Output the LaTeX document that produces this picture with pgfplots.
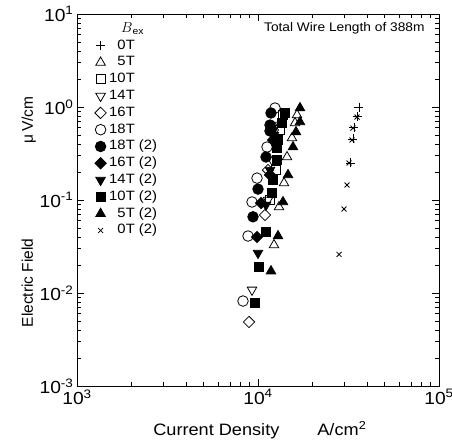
\documentclass[border=0pt]{standalone}
\usepackage{fontspec}
\setmainfont{Liberation Sans}[FakeStretch=1.1]
\newfontfamily\ylabfont{Liberation Sans}
\usepackage{pgfplots}
\pgfplotsset{compat=1.18}

\begin{document}
\begin{tikzpicture}
\begin{axis}[
  scale only axis,
  width=362pt, height=372pt,
  xmode=log, ymode=log,
  xmin=1e3, xmax=1e5,
  ymin=1e-3, ymax=10,
  xtick={1e3,1e4,1e5},
  xticklabels={10\textsuperscript{3},10\textsuperscript{4},10\textsuperscript{5}},
  ytick={1e-3,1e-2,1e-1,1,10},
  yticklabels={10\textsuperscript{-3},10\textsuperscript{-2},10\textsuperscript{-1},10\textsuperscript{0},10\textsuperscript{1}},
  tick label style={font=\fontsize{17.5}{19}\selectfont},
  major tick length=7pt, minor tick length=4pt,
  tick style={black, line width=0.6pt},
  axis line style={line width=0.8pt},
  xlabel={Current Density\hspace{38pt}A/cm\textsuperscript{2}},
  ylabel={Electric Field\hspace{95pt}μ\,V/cm},
  xlabel style={font=\fontsize{16.5}{18}\selectfont, at={(axis description cs:0.505,-0.118)}, anchor=center},
  ylabel style={font=\ylabfont\fontsize{15.5}{17}\selectfont, at={(axis description cs:-0.133,0.468)}, anchor=center},
  legend cell align=left,
  legend style={draw=none, fill=none, inner sep=0pt,
    at={(axis description cs:0.041,0.978)}, anchor=north west,
    font=\fontsize{13.5}{15}\selectfont,
    nodes={inner sep=0pt, text height=10pt, text depth=3pt},
    row sep=3.8pt,
    /tikz/every odd column/.append style={column sep=3pt}},
  every axis plot/.append style={only marks, line width=0.8pt, black},
]
\addlegendimage{empty legend}
% 0T
\addplot[mark=+, mark size=4.5pt] coordinates {
  (36140,1.0) (35240,0.80) (33900,0.609) (33470,0.453) (32240,0.25)
};
% 5T
\addplot[mark=triangle, mark size=5.5pt, mark options={fill=white}] coordinates {
  (16427,0.82) (16012,0.673) (15409,0.464) (14462,0.29) (13920,0.152) (13062,0.0841) (12258,0.0328)
};
% 10T
\addplot[mark=square, mark size=4.5pt, mark options={fill=white}] coordinates {
  (13745,0.82) (13229,0.566) (12574,0.210) (11649,0.100)
};
% 14T
\addplot[mark=triangle, mark size=5.5pt, mark options={fill=white, rotate=180}] coordinates {
  (12574,0.64) (11950,0.269) (11356,0.100) (9266,0.0108)
};
% 16T
\addplot[mark=square, mark size=4pt, mark options={fill=white, rotate=45}] coordinates {
  (12104,0.566) (11356,0.210) (10931,0.069) (8921,0.00488)
};
% 18T
\addplot[mark=o, mark size=5.3pt, mark options={fill=white}] coordinates {
  (12415,0.975) (11950,0.609) (11212,0.371) (9874,0.172) (9266,0.0952) (8808,0.041) (8262,0.0082)
};
% 18T (2)
\addplot[mark=*, mark size=5.3pt] coordinates {
  (11798,0.862) (11649,0.640) (11649,0.552) (11071,0.290) (10000,0.131) (9385,0.066)
};
% 16T (2)
\addplot[mark=square*, mark size=4pt, mark options={rotate=45}] coordinates {
  (12104,0.442) (11649,0.186) (10389,0.0928) (9874,0.040)
};
% 14T (2)
\addplot[mark=triangle*, mark size=5.5pt, mark options={rotate=180}] coordinates {
  (12258,0.50) (11649,0.21) (11071,0.0884) (10000,0.0269)
};
% 10T (2)
\addplot[mark=square*, mark size=4.5pt] coordinates {
  (14099,0.862) (13571,0.673) (12898,0.442) (12735,0.362) (12735,0.269)
  (12104,0.164) (11950,0.119) (11071,0.0453) (10128,0.019) (9625,0.0078)
};
% 5T (2)
\addplot[mark=triangle*, mark size=5.5pt] coordinates {
  (17061,0.975) (17061,0.69) (16217,0.538) (15610,0.371) (14647,0.186)
  (13745,0.0952) (12898,0.041) (11798,0.0172)
};
% 0T (2)
\addplot[mark=x, mark size=3.5pt] coordinates {
  (35240,0.78) (33470,0.594) (33060,0.442) (31840,0.25) (31030,0.145) (29870,0.080) (28030,0.026)
};
\legend{\hspace{12pt}$B$\textsubscript{ex},\phantom{1}0T,\phantom{1}5T,10T,14T,16T,18T,18T (2),16T (2),14T (2),10T (2),\phantom{1}5T (2),\phantom{1}0T (2)}
\node[anchor=base east, font=\fontsize{12.5}{14}\selectfont] at (axis description cs:0.97,0.952) {Total Wire Length of 388m};
\end{axis}
\pgfresetboundingbox
\path ([xshift=-77pt, yshift=-57pt]current axis.south west) rectangle ([xshift=13pt, yshift=14pt]current axis.north east);
\end{tikzpicture}
\end{document}
